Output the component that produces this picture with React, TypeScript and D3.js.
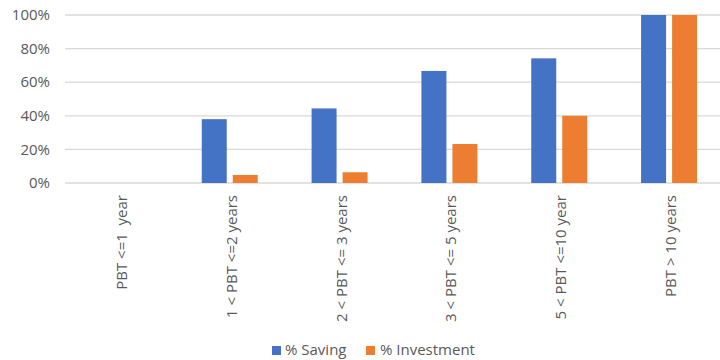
import React from "react";
import * as d3 from "d3";

const categories = [
  "PBT <=1  year",
  "1 < PBT <=2 years",
  "2 < PBT <= 3 years",
  "3 < PBT <= 5 years",
  "5 < PBT <=10 year",
  "PBT > 10 years",
];
const saving = [0, 0.38, 0.444, 0.667, 0.742, 1.0];
const investment = [0, 0.048, 0.064, 0.232, 0.4, 1.0];
const seriesNames = ["% Saving", "% Investment"];
const colors = ["#4472C4", "#ED7D31"];
const yTicks = [0, 0.2, 0.4, 0.6, 0.8, 1.0];

const W = 720;
const H = 360;
const font = "'Open Sans', sans-serif";

export default function App() {
  const x = d3.scaleBand<string>().domain(categories).range([65, 724]).padding(0);
  const y = d3.scaleLinear().domain([0, 1]).range([183, 15]);
  const inner = d3
    .scaleBand<string>()
    .domain(seriesNames)
    .range([-28, 28])
    .paddingInner(0.194)
    .paddingOuter(0);
  const series = [saving, investment];
  const fmt = d3.format(".0%");

  return (
    <svg
      width={W}
      height={H}
      style={{ position: "absolute", left: 0, top: 0, background: "#fff" }}
      fontFamily={font}
    >
      {yTicks.map((t) => (
        <g key={t}>
          <line x1={65} x2={720} y1={y(t)} y2={y(t)} stroke="#d9d9d9" strokeWidth={1.3} />
          <text
            x={50}
            y={y(t)}
            dy="0.35em"
            textAnchor="end"
            fontSize={15}
            fill="#595959"
          >
            {fmt(t)}
          </text>
        </g>
      ))}
      {categories.map((c, i) => {
        const cx = (x(c) as number) + x.bandwidth() / 2;
        return (
          <g key={c}>
            {series.map((s, j) => {
              const v = s[i];
              if (v <= 0) return null;
              return (
                <rect
                  key={j}
                  x={cx + (inner(seriesNames[j]) as number)}
                  y={y(v)}
                  width={inner.bandwidth()}
                  height={y(0) - y(v)}
                  fill={colors[j]}
                />
              );
            })}
            <text
              transform={`translate(${cx + 7},195) rotate(-90)`}
              textAnchor="end"
              fontSize={15}
              fill="#595959"
              style={{ whiteSpace: "pre" }}
            >
              {c}
            </text>
          </g>
        );
      })}
      <g>
        <rect x={272} y={346} width={9} height={9} fill={colors[0]} />
        <text x={285} y={350} dy="0.35em" fontSize={15} fill="#595959">
          {seriesNames[0]}
        </text>
        <rect x={366} y={346} width={9} height={9} fill={colors[1]} />
        <text x={380} y={350} dy="0.35em" fontSize={15} fill="#595959">
          {seriesNames[1]}
        </text>
      </g>
    </svg>
  );
}
